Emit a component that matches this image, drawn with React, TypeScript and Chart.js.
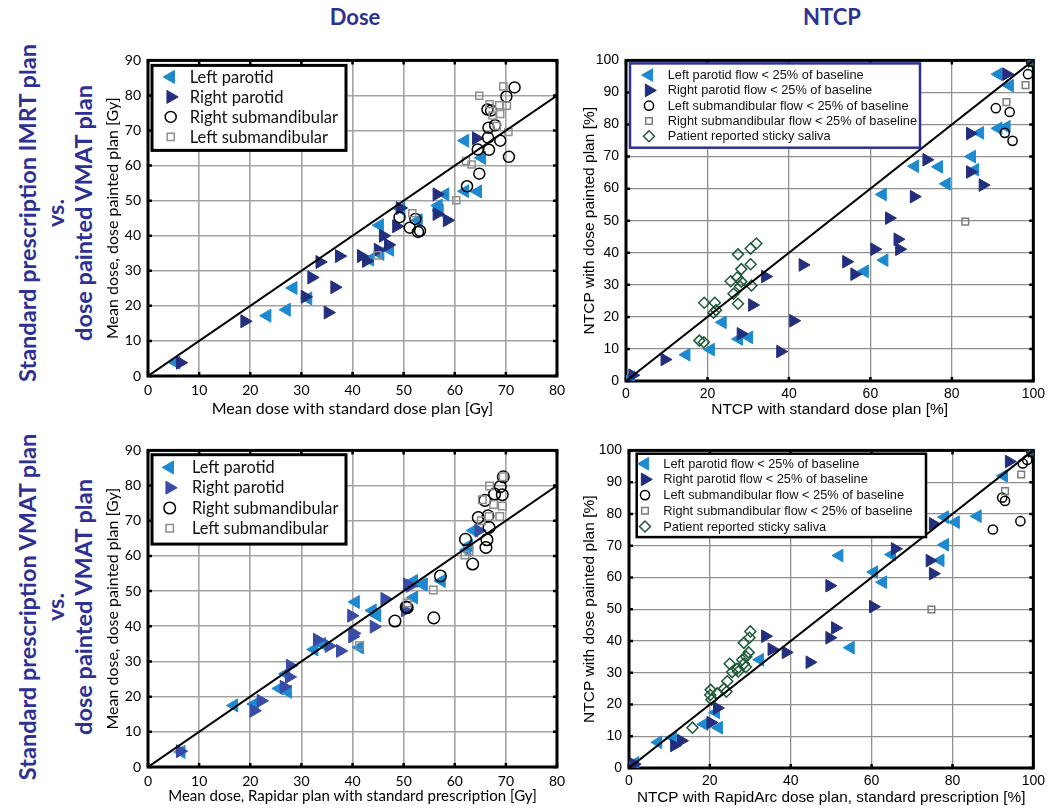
import React, { useEffect, useRef } from 'react';
import { Chart, registerables } from 'chart.js';
import { drawPoint } from 'chart.js/helpers';

Chart.register(...registerables);

type Pt = [number, number];

// ---------------- data ----------------
const doseXTicks = [0, 10, 20, 30, 40, 50, 60, 70, 80];
const doseYTicks = [0, 10, 20, 30, 40, 50, 60, 70, 80, 90];
const ntcpXTicks = [0, 20, 40, 60, 80, 100];
const ntcpYTicks = [0, 10, 20, 30, 40, 50, 60, 70, 80, 90, 100];
const doseIdentity: Pt[] = [[0, 0], [80, 80]];
const ntcpIdentity: Pt[] = [[0, 0], [100, 100]];

const doseLabels = ['Left parotid', 'Right parotid', 'Right submandibular', 'Left submandibular'];
const ntcpLabels = [
  'Left parotid flow < 25% of baseline',
  'Right parotid flow < 25% of baseline',
  'Left submandibular flow < 25% of baseline',
  'Right submandibular flow < 25% of baseline',
  'Patient reported sticky saliva',
];

// Top-left: dose, standard IMRT vs dose painted VMAT
const doseImrtLeftParotid: Pt[] = [
  [5.5, 3.8], [23.3, 17.2], [27.1, 18.9], [28.4, 25.1], [31.3, 22.1], [43.4, 33.2], [45.4, 34.8],
  [47.3, 36], [45.3, 43], [49.5, 47.6], [52.9, 44.4], [56.8, 48.6], [57, 47.2], [58.1, 51.8],
  [62, 52.7], [64.5, 52.6], [62, 67.1], [65.3, 62.2],
];
const doseImrtRightParotid: Pt[] = [
  [6.3, 3.8], [18.9, 15.6], [30.7, 22.6], [32, 28.1], [35.2, 18.1], [36.5, 25.3], [33.6, 32.5],
  [37.4, 34.2], [41.7, 34.2], [42.7, 32.8], [45, 36], [47, 37.4], [46, 40], [48.6, 42.7],
  [49.3, 47.9], [56.5, 51.8], [56.5, 46.2], [58.5, 44.4], [64.2, 67.8],
];
const doseImrtRightSubmand: Pt[] = [
  [49.2, 45.3], [51.2, 42.3], [52.8, 41.1], [52.3, 44.8], [53.2, 41.4], [62.4, 54.1], [64.8, 57.7],
  [64.5, 64.6], [66.7, 64.5], [70.6, 62.5], [66.5, 68], [68.9, 67.1], [66.6, 70.8], [67.9, 71.5],
  [66.4, 76], [67.1, 75.7], [70.1, 79.7], [71.7, 82.3],
];
const doseImrtLeftSubmand: Pt[] = [
  [44.9, 34.4], [51.7, 46.4], [60.3, 50.1], [62.2, 61.3], [63.3, 60.3], [64.8, 79.9], [69.5, 82.6],
  [66.8, 77.5], [68.7, 77.2], [70.2, 77.1], [67.4, 74.3], [68.9, 74.7], [68.2, 71.3], [70.5, 69.6],
];

// Top-right: NTCP, standard IMRT vs dose painted VMAT
const ntcpImrtLeftParotid: Pt[] = [
  [1.2, 1.2], [14.8, 8.2], [20.8, 9.8], [23.7, 18.3], [27.7, 13.1], [30.2, 13.6], [58.6, 34.2],
  [63.4, 37.7], [63, 58.2], [70.9, 67], [76.8, 66.8], [78.7, 61.5], [85.7, 65.9], [84.9, 70],
  [86.9, 77.4], [91.4, 78.8], [93.4, 79.3], [94.2, 92.1], [91.4, 95.7], [99.8, 99.6],
];
const ntcpImrtRightParotid: Pt[] = [
  [1.6, 1.8], [9.5, 6.7], [28.2, 14.7], [37.9, 9.2], [41.1, 18.8], [31, 23.7], [34.2, 32.6],
  [43.4, 36.2], [54.1, 37.2], [56.1, 33.3], [61, 41.1], [66.7, 44.2], [67.1, 41.1], [64.6, 50.8],
  [70.7, 57.5], [73.8, 69], [84.5, 65.2], [87.6, 61.1], [84.5, 77.2], [93.4, 95.7], [99.6, 99.8],
];
const ntcpImrtLeftSubmand: Pt[] = [
  [90.8, 85.1], [94.2, 83.9], [93, 77.4], [94.9, 74.9], [98.7, 95.7], [99.5, 99.5], [100, 100],
];
const ntcpImrtRightSubmand: Pt[] = [[98.1, 92.3], [93.4, 87], [83.3, 49.7], [99.8, 99.8]];
const ntcpImrtSticky: Pt[] = [
  [18, 12.6], [19.1, 12.1], [19.2, 24.4], [21.8, 24.4], [21.5, 21.3], [22.1, 22.1], [27.5, 39.5],
  [30.6, 41.3], [32, 42.9], [30.6, 36.4], [28.3, 34.9], [27.3, 32.3], [25.7, 31.1], [28.3, 31],
  [26.4, 27.2], [27.5, 24.1], [30.8, 29.8], [28, 29.5], [100, 100],
];

// Bottom-left: dose, standard VMAT vs dose painted VMAT
const doseVmatLeftParotid: Pt[] = [
  [6.5, 4.3], [16.8, 17.5], [20.8, 17.9], [25.7, 22.3], [27.3, 21.4], [27, 26.5], [32.5, 33.4],
  [34, 35], [41.4, 34], [40.6, 46.9], [44.8, 43.1], [43.9, 44.5], [52, 48.2], [53.9, 51.9],
  [52, 52.9], [53.7, 51.9], [57.4, 52.9], [62.8, 63], [62.4, 61.7], [63.7, 67.2],
];
const doseVmatRightParotid: Pt[] = [
  [6.3, 4.5], [20.7, 16], [22.1, 18.8], [26.6, 22.8], [27.6, 25.6], [27.8, 28.8], [33.1, 36.2],
  [35.4, 34.4], [37.6, 33], [40, 37.1], [40.2, 38], [39.8, 43], [44.2, 39.9], [46.3, 47.8],
  [51.3, 51.5], [50.7, 51.9], [50.3, 44.5], [64.7, 67.2],
];
const doseVmatRightSubmand: Pt[] = [
  [48.3, 41.5], [50.7, 45.3], [50.5, 45.5], [55.9, 42.4], [57.2, 54.3], [62.1, 64.7], [63.5, 57.7],
  [66.3, 64.6], [66.1, 62.4], [66.7, 68.1], [64.6, 70.9], [66.5, 71.4], [65.9, 75.8], [67.8, 77.6],
  [69.3, 77.4], [68.9, 79.7], [69.5, 82.5],
];
const doseVmatLeftSubmand: Pt[] = [
  [41.4, 34.5], [50.7, 46.6], [55.8, 50.3], [62, 60.3], [62.8, 61.4], [65.2, 70], [66.7, 71.2],
  [68.8, 71.2], [67.6, 74.6], [69.3, 74.2], [65.4, 76], [66.8, 79.9], [69.5, 82.5],
];

// Bottom-right: NTCP, standard VMAT (RapidArc) vs dose painted VMAT
const ntcpVmatLeftParotid: Pt[] = [
  [1.5, 1.6], [7.2, 8.1], [10.8, 9.6], [18.6, 13.8], [22.2, 12.7], [21.5, 17.5], [32.4, 34.1],
  [54.8, 37.9], [52, 66.9], [60.6, 61.7], [62.8, 58.5], [65, 67.2], [78.1, 70.3], [77, 65.4],
  [78.1, 79], [80.8, 77.4], [86.2, 79.3], [92.7, 92], [99.8, 99.6],
];
const ntcpVmatRightParotid: Pt[] = [
  [1.2, 1.2], [11.2, 7.1], [12.9, 8.6], [20.2, 14.3], [21.8, 18.9], [33.7, 41.5], [35.3, 37.4],
  [38.8, 36.4], [44.7, 33.3], [49.6, 41], [51, 44.1], [49.6, 57.4], [60.4, 50.8], [65.8, 69],
  [74.4, 65.3], [75.2, 61.2], [75.2, 76.9], [94, 96.5], [99.6, 99.8],
];
const ntcpVmatLeftSubmand: Pt[] = [
  [97.4, 95.9], [98.5, 97], [92.3, 85.1], [93, 84.1], [90, 75.1], [96.8, 77.7], [99.5, 99.5], [100, 100],
];
const ntcpVmatRightSubmand: Pt[] = [[97, 92.4], [93, 87.2], [74.8, 49.9], [99.8, 99.8]];
const ntcpVmatSticky: Pt[] = [
  [15.7, 12.7], [20.2, 24.6], [20.1, 23], [20.4, 21.5], [21.8, 23.5], [23.5, 25], [24.1, 24],
  [24.3, 27.3], [24.9, 32.8], [25.5, 30.2], [26.7, 31.2], [27, 30.4], [28, 34.1], [28.4, 32.8],
  [28.9, 31.8], [28.4, 39.4], [29.8, 41], [30, 43], [29.6, 36.4], [29, 35], [100, 100],
];

// ---------------- styles ----------------
const LIGHT = '#1d89d0';
const NAVY = '#232f7c';
const NAVY_B = '#3a4ba6';
const TITLE_NAVY = '#2e3192';
const LEFT_FONT = 'Lato, "Open Sans", sans-serif';
const RIGHT_FONT = '"Liberation Sans", Arial, sans-serif';

type MarkerStyle = { pointStyle: string; rotation: number; radius: number; fill: string; stroke: string; bw: number };
const mk = (pointStyle: string, rotation: number, radius: number, fill: string, stroke: string, bw: number): MarkerStyle =>
  ({ pointStyle, rotation, radius, fill, stroke, bw });

type Series = { label: string; data: Pt[]; style: MarkerStyle };

type LegendCfg = {
  dx: number; dy: number; w: number; h: number; row0: number; rowH: number; markerX: number; textX: number;
  font: string; border: string; borderW: number;
};

type PanelCfg = {
  left: number; top: number; w: number; h: number;
  yWidth: number; xHeight: number; padTop: number; padRight: number;
  xTicks: number[]; yTicks: number[]; identity: Pt[];
  xTitle: string; yTitle: string; family: string; tickSize: number; xTitleSize: number; yTitleSize: number;
  xTickPad: number; yTickPad: number; xTitlePad: number; yTitlePad: number;
  gridColor: string; gridWidth: number;
  series: Series[]; legend: LegendCfg;
};

const hollow = 'rgba(0,0,0,0)';

const panels: PanelCfg[] = [
  {
    left: 95, top: 45, w: 490, h: 375, yWidth: 53, xHeight: 44, padTop: 8, padRight: 28,
    xTicks: doseXTicks, yTicks: doseYTicks, identity: doseIdentity,
    xTitle: 'Mean dose with standard dose plan [Gy]', yTitle: 'Mean dose, dose painted plan [Gy]',
    family: LEFT_FONT, tickSize: 14, xTitleSize: 16, yTitleSize: 16, xTickPad: 6, yTickPad: 7, xTitlePad: 2, yTitlePad: 8,
    gridColor: '#a3a3a3', gridWidth: 1.6,
    series: [
      { label: doseLabels[0], data: doseImrtLeftParotid, style: mk('triangle', -90, 7.5, LIGHT, LIGHT, 1) },
      { label: doseLabels[1], data: doseImrtRightParotid, style: mk('triangle', 90, 7.5, NAVY, NAVY, 1) },
      { label: doseLabels[2], data: doseImrtRightSubmand, style: mk('circle', 0, 5.5, hollow, '#000', 1.5) },
      { label: doseLabels[3], data: doseImrtLeftSubmand, style: mk('rect', 0, 5, hollow, '#8e8e8e', 1.5) },
    ],
    legend: { dx: 4, dy: 5, w: 194, h: 85, row0: 11.5, rowH: 20, markerX: 18.7, textX: 37.7, font: `16.5px ${LEFT_FONT}`, border: '#000', borderW: 3 },
  },
  {
    left: 575, top: 45, w: 475, h: 375, yWidth: 51, xHeight: 39, padTop: 11, padRight: 13,
    xTicks: ntcpXTicks, yTicks: ntcpYTicks, identity: ntcpIdentity,
    xTitle: 'NTCP with standard dose plan [%]', yTitle: 'NTCP with dose painted plan [%]',
    family: RIGHT_FONT, tickSize: 14, xTitleSize: 15.5, yTitleSize: 15.5, xTickPad: 5, yTickPad: 7, xTitlePad: 1, yTitlePad: 5,
    gridColor: '#8f8f8f', gridWidth: 1.3,
    series: [
      { label: ntcpLabels[0], data: ntcpImrtLeftParotid, style: mk('triangle', -90, 7.3, LIGHT, LIGHT, 1) },
      { label: ntcpLabels[1], data: ntcpImrtRightParotid, style: mk('triangle', 90, 7.3, NAVY, NAVY, 1) },
      { label: ntcpLabels[2], data: ntcpImrtLeftSubmand, style: mk('circle', 0, 4.6, hollow, '#000', 1.5) },
      { label: ntcpLabels[3], data: ntcpImrtRightSubmand, style: mk('rect', 0, 4.7, hollow, '#7c7c7c', 1.5) },
      { label: ntcpLabels[4], data: ntcpImrtSticky, style: mk('rectRot', 0, 5.5, hollow, '#1d5a36', 1.5) },
    ],
    legend: { dx: 4, dy: 3, w: 290, h: 84.3, row0: 11.7, rowH: 15.3, markerX: 19, textX: 37.7, font: `12.8px ${RIGHT_FONT}`, border: TITLE_NAVY, borderW: 2.5 },
  },
  {
    left: 95, top: 435, w: 490, h: 374, yWidth: 53, xHeight: 42, padTop: 8, padRight: 28,
    xTicks: doseXTicks, yTicks: doseYTicks, identity: doseIdentity,
    xTitle: 'Mean dose, Rapidar plan with standard prescription [Gy]', yTitle: 'Mean dose, dose painted plan [Gy]',
    family: LEFT_FONT, tickSize: 14, xTitleSize: 15, yTitleSize: 16, xTickPad: 6, yTickPad: 7, xTitlePad: 4, yTitlePad: 8,
    gridColor: '#a3a3a3', gridWidth: 1.6,
    series: [
      { label: doseLabels[0], data: doseVmatLeftParotid, style: mk('triangle', -90, 7.5, LIGHT, LIGHT, 1) },
      { label: doseLabels[1], data: doseVmatRightParotid, style: mk('triangle', 90, 7.5, NAVY_B, NAVY_B, 1) },
      { label: doseLabels[2], data: doseVmatRightSubmand, style: mk('circle', 0, 5.8, hollow, '#000', 1.5) },
      { label: doseLabels[3], data: doseVmatLeftSubmand, style: mk('rect', 0, 5.3, hollow, '#8e8e8e', 1.5) },
    ],
    legend: { dx: 4, dy: 4.3, w: 194, h: 89.4, row0: 12.7, rowH: 20.3, markerX: 17.7, textX: 40, font: `16.3px ${LEFT_FONT}`, border: '#000', borderW: 3 },
  },
  {
    left: 575, top: 435, w: 475, h: 374, yWidth: 54, xHeight: 41, padTop: 9, padRight: 12,
    xTicks: ntcpXTicks, yTicks: ntcpYTicks, identity: ntcpIdentity,
    xTitle: 'NTCP with RapidArc dose plan, standard prescription [%]', yTitle: 'NTCP with dose painted plan [%]',
    family: RIGHT_FONT, tickSize: 14, xTitleSize: 15.3, yTitleSize: 15.5, xTickPad: 5, yTickPad: 7, xTitlePad: 2, yTitlePad: 5,
    gridColor: '#8f8f8f', gridWidth: 1.3,
    series: [
      { label: ntcpLabels[0], data: ntcpVmatLeftParotid, style: mk('triangle', -90, 7.3, LIGHT, LIGHT, 1) },
      { label: ntcpLabels[1], data: ntcpVmatRightParotid, style: mk('triangle', 90, 7.3, NAVY, NAVY, 1) },
      { label: ntcpLabels[2], data: ntcpVmatLeftSubmand, style: mk('circle', 0, 4.6, hollow, '#000', 1.5) },
      { label: ntcpLabels[3], data: ntcpVmatRightSubmand, style: mk('rect', 0, 4.7, hollow, '#7c7c7c', 1.5) },
      { label: ntcpLabels[4], data: ntcpVmatSticky, style: mk('rectRot', 0, 5.5, hollow, '#1d5a36', 1.5) },
    ],
    legend: { dx: 7.7, dy: 3.3, w: 289.3, h: 83.4, row0: 10, rowH: 15.7, markerX: 8.3, textX: 26.6, font: `12.8px ${RIGHT_FONT}`, border: '#000', borderW: 2.5 },
  },
];

function buildConfig(p: PanelCfg): any {
  const toXY = (d: Pt[]) => d.map(([x, y]) => ({ x, y }));
  const datasets: any[] = [
    {
      label: 'identity', data: toXY(p.identity), showLine: true, borderColor: '#000', borderWidth: 2,
      pointRadius: 0, fill: false,
    },
    ...p.series.slice().reverse().map((s) => ({
      label: s.label,
      data: toXY(s.data),
      showLine: false,
      pointStyle: s.style.pointStyle,
      pointRotation: s.style.rotation,
      pointRadius: s.style.radius,
      pointHoverRadius: s.style.radius,
      pointBackgroundColor: s.style.fill,
      pointBorderColor: s.style.stroke,
      pointBorderWidth: s.style.bw,
    })),
  ];

  const framePlugin = {
    id: 'frame',
    beforeDatasetsDraw(chart: any) {
      const { ctx, chartArea: a, scales } = chart;
      ctx.save();
      ctx.strokeStyle = '#000';
      ctx.lineWidth = 3;
      ctx.strokeRect(a.left, a.top, a.right - a.left, a.bottom - a.top);
      ctx.lineWidth = 2.5;
      ctx.beginPath();
      for (const v of p.xTicks) {
        const px = scales.x.getPixelForValue(v);
        ctx.moveTo(px, a.top); ctx.lineTo(px, a.top + 4);
        ctx.moveTo(px, a.bottom); ctx.lineTo(px, a.bottom - 4);
      }
      for (const v of p.yTicks) {
        const py = scales.y.getPixelForValue(v);
        ctx.moveTo(a.left, py); ctx.lineTo(a.left + 4, py);
        ctx.moveTo(a.right, py); ctx.lineTo(a.right - 4, py);
      }
      ctx.stroke();
      ctx.restore();
    },
  };

  const legendPlugin = {
    id: 'boxLegend',
    afterDatasetsDraw(chart: any) {
      const { ctx, chartArea: a } = chart;
      const L = p.legend;
      const x0 = a.left + L.dx;
      const y0 = a.top + L.dy;
      ctx.save();
      ctx.fillStyle = '#fff';
      ctx.fillRect(x0, y0, L.w, L.h);
      ctx.strokeStyle = L.border;
      ctx.lineWidth = L.borderW;
      ctx.strokeRect(x0, y0, L.w, L.h);
      p.series.forEach((s, i) => {
        const cy = y0 + L.row0 + i * L.rowH;
        ctx.fillStyle = s.style.fill;
        ctx.strokeStyle = s.style.stroke;
        ctx.lineWidth = s.style.bw;
        drawPoint(ctx, { pointStyle: s.style.pointStyle, rotation: s.style.rotation, radius: s.style.radius, borderWidth: s.style.bw } as any, x0 + L.markerX, cy);
        ctx.fillStyle = '#111';
        ctx.font = L.font;
        ctx.textAlign = 'left';
        ctx.textBaseline = 'middle';
        ctx.fillText(s.label, x0 + L.textX, cy + 0.5);
      });
      ctx.restore();
    },
  };

  const tickFont = { family: p.family, size: p.tickSize };

  return {
    type: 'scatter',
    data: { datasets },
    options: {
      responsive: false,
      animation: false,
      devicePixelRatio: 1,
      events: [],
      layout: { padding: { top: p.padTop, right: p.padRight, left: 0, bottom: 0 } },
      plugins: { legend: { display: false }, tooltip: { enabled: false } },
      scales: {
        x: {
          type: 'linear', position: 'bottom',
          min: p.xTicks[0], max: p.xTicks[p.xTicks.length - 1],
          afterBuildTicks: (s: any) => { s.ticks = p.xTicks.map((v) => ({ value: v })); },
          ticks: { color: '#000', font: tickFont, padding: p.xTickPad, maxRotation: 0, autoSkip: false },
          grid: { color: p.gridColor, lineWidth: p.gridWidth, drawTicks: false },
          border: { display: false },
          title: { display: true, text: p.xTitle, color: '#000', font: { family: p.family, size: p.xTitleSize }, padding: { top: 0, bottom: p.xTitlePad } },
          afterFit: (s: any) => { s.height = p.xHeight; },
        },
        y: {
          type: 'linear', position: 'left',
          min: p.yTicks[0], max: p.yTicks[p.yTicks.length - 1],
          afterBuildTicks: (s: any) => { s.ticks = p.yTicks.map((v) => ({ value: v })); },
          ticks: { color: '#000', font: tickFont, padding: p.yTickPad, autoSkip: false },
          grid: { color: p.gridColor, lineWidth: p.gridWidth, drawTicks: false },
          border: { display: false },
          title: { display: true, text: p.yTitle, color: '#000', font: { family: p.family, size: p.yTitleSize }, padding: { top: p.yTitlePad, bottom: 0 } },
          afterFit: (s: any) => { s.width = p.yWidth; },
        },
      },
    },
    plugins: [framePlugin, legendPlugin],
  };
}

function Panel({ cfg }: { cfg: PanelCfg }) {
  const ref = useRef<HTMLCanvasElement>(null);
  useEffect(() => {
    const chart = new Chart(ref.current as HTMLCanvasElement, buildConfig(cfg));
    return () => chart.destroy();
  }, [cfg]);
  return (
    <canvas
      ref={ref}
      width={cfg.w}
      height={cfg.h}
      style={{ position: 'absolute', left: cfg.left, top: cfg.top, width: cfg.w, height: cfg.h }}
    />
  );
}

const headStyle: React.CSSProperties = {
  position: 'absolute', width: 200, textAlign: 'center', fontFamily: LEFT_FONT, fontWeight: 700,
  fontSize: 22, color: TITLE_NAVY, lineHeight: '24px',
};

function RowLabel({ cx, cy, lines }: { cx: number; cy: number; lines: string[] }) {
  const w = 440;
  const h = 84;
  return (
    <div
      style={{
        position: 'absolute', left: cx - w / 2, top: cy - h / 2, width: w, height: h,
        transform: 'rotate(-90deg)', transformOrigin: '50% 50%', textAlign: 'center',
        fontFamily: LEFT_FONT, fontWeight: 700, fontSize: 23.5, lineHeight: '28px', color: TITLE_NAVY,
        whiteSpace: 'nowrap',
      }}
    >
      {lines.map((l, i) => (<div key={i}>{l}</div>))}
    </div>
  );
}

export default function App() {
  return (
    <div style={{ position: 'absolute', left: 0, top: 0, width: 1051, height: 809, background: '#fff', overflow: 'hidden' }}>
      <div style={{ ...headStyle, left: 255, top: 5 }}>Dose</div>
      <div style={{ ...headStyle, left: 732, top: 5 }}>NTCP</div>
      <RowLabel cx={55} cy={213} lines={['Standard prescription IMRT plan', 'vs.', 'dose painted VMAT plan']} />
      <RowLabel cx={55} cy={607} lines={['Standard prescription VMAT plan', 'vs.', 'dose painted VMAT plan']} />
      {panels.map((p, i) => (<Panel key={i} cfg={p} />))}
    </div>
  );
}
